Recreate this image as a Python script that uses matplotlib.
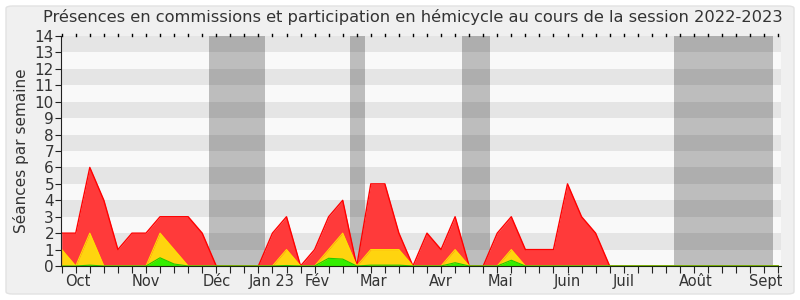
import matplotlib
matplotlib.use("Agg")
import matplotlib.pyplot as plt
from matplotlib.patches import FancyBboxPatch
import matplotlib.transforms as mtransforms
import numpy as np

# ---- data (weekly, session 2022-2023) ----
total_seances = [2, 2, 6, 4, 1, 2, 2, 3, 3, 3, 2, 0, 0, 0, 0, 2, 3, 0, 1, 3,
                 4, 0, 5, 5, 2, 0, 2, 1, 3, 0, 0, 2, 3, 1, 1, 1, 5, 3, 2, 0,
                 0, 0, 0, 0, 0, 0, 0, 0, 0, 0, 0, 0]
commission = [1, 0, 2, 0, 0, 0, 0, 2, 1, 0, 0, 0, 0, 0, 0, 0, 1, 0, 0, 1,
              2, 0, 1, 1, 1, 0, 0, 0, 1, 0, 0, 0, 1, 0, 0, 0, 0, 0, 0, 0,
              0, 0, 0, 0, 0, 0, 0, 0, 0, 0, 0, 0]
hemicycle = [0, 0, 0.05, 0, 0, 0, 0, 0.5, 0.12, 0, 0, 0, 0, 0, 0, 0, 0.03, 0, 0, 0.47,
             0.42, 0, 0.05, 0.05, 0.05, 0, 0, 0, 0.2, 0, 0, 0, 0.35, 0, 0, 0, 0, 0, 0, 0,
             0, 0, 0, 0, 0, 0, 0, 0, 0, 0, 0, 0]
month_labels = ["Oct", "Nov", "Déc", "Jan 23", "Fév", "Mar", "Avr", "Mai",
                "Juin", "Juil", "Août", "Sept"]
month_positions = [1.12, 5.96, 11.0, 14.93, 18.15, 22.2, 27.0, 31.25,
                   36.0, 40.0, 45.1, 50.1]
vacances = [(10.5, 14.5), (20.5, 21.6), (28.5, 30.5), (43.6, 50.6)]

title = "Présences en commissions et participation en hémicycle au cours de la session 2022-2023"

plt.rcParams['font.family'] = ['DejaVu Sans']

fig = plt.figure(figsize=(8, 3), dpi=100)
fig.patch.set_facecolor("white")
bg = FancyBboxPatch((6 / 800, 6 / 300), 788 / 800, 288 / 300,
                    boxstyle="round,pad=0,rounding_size=0.008",
                    transform=fig.transFigure, facecolor="#f0f0f0",
                    edgecolor="#e2e2e2", linewidth=1.0, zorder=-10)
fig.patches.append(bg)

ax = fig.add_axes([61 / 800, (300 - 266) / 300, 720 / 800, 230 / 300])
ax.set_facecolor("#f9f9f9")
x = np.arange(len(total_seances))
ax.set_xlim(-0.05, -0.05 + 720 / 14.05)
ax.set_ylim(0, 14)

# alternating bands
for y0 in range(1, 14, 2):
    ax.axhspan(y0, y0 + 1, color="#e5e5e5", lw=0, zorder=0)

# holidays
for a, b in vacances:
    ax.axvspan(a, b, color="black", alpha=0.24, lw=0, zorder=1)

ax.fill_between(x, 0, total_seances, color="#ff3a3a", lw=0, zorder=2)
ax.plot(x, total_seances, color="#ff0000", lw=1.0, zorder=3)
ax.fill_between(x, 0, commission, color="#ffd40f", lw=0, zorder=4)
ax.plot(x, commission, color="#ffe000", lw=0.8, zorder=5)
ax.fill_between(x, 0, hemicycle, color="#33ee00", lw=0, zorder=6)
ax.plot(x, hemicycle, color="#22cc00", lw=0.8, zorder=7)

for s in ["top", "right"]:
    ax.spines[s].set_visible(False)
ax.spines["left"].set_color("#222222")
ax.spines["bottom"].set_color("#1a2a10")
ax.spines["left"].set_zorder(10)
ax.spines["bottom"].set_zorder(10)

ax.set_yticks(range(0, 15))
ax.tick_params(axis="y", length=4, color="#222222", labelsize=11,
               labelcolor="#333333", pad=1)
ax.set_xticks(x)
ax.set_xticklabels([])
ax.tick_params(axis="x", which="major", length=5, color="#222222",
               direction="out")

# month labels
trans = mtransforms.blended_transform_factory(ax.transData, ax.transAxes)
for pos, lab in zip(month_positions, month_labels):
    ax.text(pos, -0.035, lab, transform=trans, ha="center", va="top",
            fontsize=10.5, color="#333333", clip_on=False)

# top dotted ticks
for xi in x:
    ax.plot([xi, xi], [14.0, 14.12], color="black", lw=1, clip_on=False,
            zorder=11)

ax.set_ylabel("Séances par semaine", fontsize=11, color="#333333", labelpad=4)
fig.text(413 / 800, 1 - 17 / 300, title, ha="center", va="center",
         fontsize=11.7, color="#333333")

fig.savefig("out.png", dpi=100, facecolor=fig.get_facecolor())
